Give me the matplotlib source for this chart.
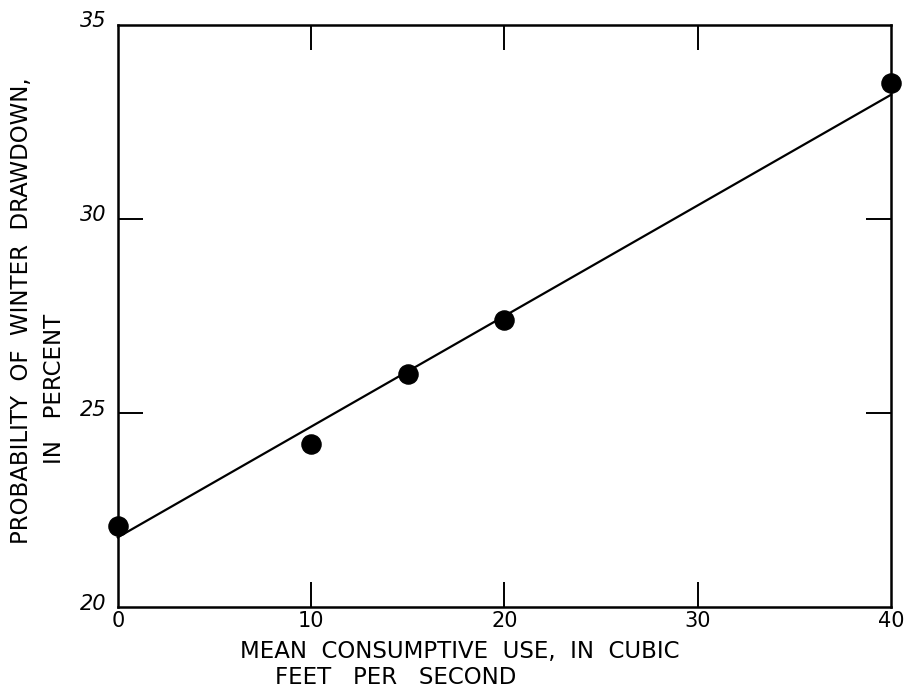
import matplotlib
matplotlib.use("Agg")
import matplotlib.pyplot as plt
import matplotlib.transforms as mtrans
import numpy as np

use_cfs = [0, 10, 15, 20, 40]
prob_pct = [22.1, 24.2, 26.0, 27.4, 33.5]
fit_x = [0, 40]
fit_y = [21.8, 33.2]
x_ticks = [0, 10, 20, 30, 40]
y_ticks = [20, 25, 30, 35]
x_inner = [10, 20, 30]
y_inner = [25, 30]

plt.rcParams['font.family'] = ['DejaVu Sans']
fig = plt.figure(figsize=(9.13, 6.9), dpi=100)
ax = fig.add_axes([0.129, 0.120, 0.847, 0.844])

ax.plot(fit_x, fit_y, color='black', lw=1.6, clip_on=False)
ax.scatter(use_cfs, prob_pct, s=190, color='black', zorder=3, clip_on=False)

ax.set_xlim(0, 40)
ax.set_ylim(20, 35)
ax.xaxis.remove_overlapping_locs = False
ax.yaxis.remove_overlapping_locs = False
ax.set_xticks(x_ticks)
ax.set_yticks(y_ticks)
ax.set_xticklabels([str(v) for v in x_ticks], fontsize=15)
ax.set_yticklabels([str(v) for v in y_ticks], fontsize=15, style='italic')
ax.tick_params(axis='x', which='major', length=0, pad=3)
ax.tick_params(axis='y', which='major', length=0, pad=8)
ax.set_xticks(x_inner, minor=True)
ax.set_yticks(y_inner, minor=True)
ax.tick_params(which='minor', direction='in', length=18, width=1.4,
               top=True, right=True, bottom=True, left=True)
for s in ax.spines.values():
    s.set_linewidth(1.8)

off = mtrans.ScaledTranslation(0, 4/72, fig.dpi_scale_trans)
for lab in ax.get_yticklabels():
    lab.set_transform(lab.get_transform() + off)

fig.text(0.263, 0.056, "MEAN  CONSUMPTIVE  USE,  IN  CUBIC", ha='left', va='center', fontsize=16.5)
fig.text(0.301, 0.018, "FEET   PER   SECOND", ha='left', va='center', fontsize=16.5)
fig.text(0.024, 0.55, "PROBABILITY  OF  WINTER  DRAWDOWN,", rotation=90, ha='center', va='center', fontsize=16.5)
fig.text(0.060, 0.437, "IN   PERCENT", rotation=90, ha='center', va='center', fontsize=16.5)

fig.savefig("out.png", dpi=100)
